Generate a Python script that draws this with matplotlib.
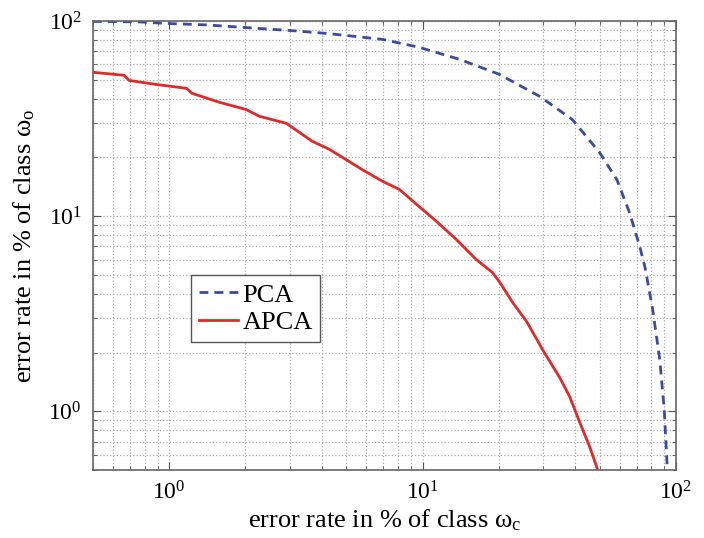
import matplotlib.pyplot as plt
import numpy as np

plt.rcParams['font.family'] = ['Liberation Serif', 'DejaVu Serif']
plt.rcParams['mathtext.fontset'] = 'stix'

# PCA curve: error on class w_c (x, %) vs error on class w_o (y, %)
pca_x = [0.5, 0.75, 1.0, 1.4, 2.01, 3.18, 4.29, 6.95, 9.7, 14.0, 20.1, 29.0,
         39.0, 50.0, 58.5, 65.7, 72.0, 75.5, 81.1, 86.4, 90.0, 92.6]
pca_y = [99.5, 99.0, 97.0, 95.5, 92.5, 88.9, 86.1, 80.5, 73.3, 63.6, 53.3, 41.1,
         31.3, 21.2, 15.4, 10.4, 7.0, 5.5, 3.3, 1.84, 1.02, 0.5]

# APCA curve
apca_x = [0.5, 0.664, 0.695, 0.888, 1.17, 1.23, 1.58, 2.01, 2.27, 2.90, 3.06,
          3.67, 4.29, 5.79, 6.95, 8.11, 9.47, 11.36, 13.6, 16.3, 18.9, 20.1,
          22.7, 25.8, 29.8, 34.8, 38.1, 41.8, 45.7, 49.2]
apca_y = [54.6, 52.7, 49.6, 47.3, 45.2, 42.6, 38.3, 35.2, 32.5, 29.9, 28.5,
          24.2, 22.0, 17.3, 15.1, 13.7, 11.5, 9.40, 7.60, 6.00, 5.14, 4.62,
          3.61, 2.88, 2.07, 1.49, 1.19, 0.875, 0.659, 0.5]

fig = plt.figure(figsize=(7.04, 5.38), dpi=100)
ax = fig.add_axes([0.132, 0.126, 0.828, 0.835])

ax.loglog(pca_x, pca_y, '--', color='#3c4b9c', lw=2.0, dashes=(3.2, 2.2), label='PCA')
ax.loglog(apca_x, apca_y, '-', color='#e02a2a', lw=2.0, label='APCA')

ax.set_xlim(0.5, 100)
ax.set_ylim(0.5, 100)

ax.grid(True, which='both', linestyle=':', color='#aaaaaa', lw=0.9)
ax.tick_params(which='both', direction='in', top=True, right=True,
               colors='#555555', labelcolor='black', labelsize=17)
ax.tick_params(which='major', length=6, pad=8)
ax.tick_params(which='minor', length=3)
for s in ax.spines.values():
    s.set_color('#666666')
    s.set_linewidth(1.2)

ax.set_xlabel(r'error rate in % of class $\mathregular{\omega_c}$', fontsize=19, labelpad=2)
ax.set_ylabel(r'error rate in % of class $\mathregular{\omega_o}$', fontsize=19, labelpad=8)

leg = ax.legend(loc='upper left', bbox_to_anchor=(0.168, 0.434), borderaxespad=0,
                fontsize=19, handlelength=1.5, handletextpad=0.15, borderpad=0.3,
                labelspacing=0.15, fancybox=False, framealpha=1)
leg.get_frame().set_edgecolor('#555555')
leg.get_frame().set_linewidth(1.0)

fig.savefig('out.png')
